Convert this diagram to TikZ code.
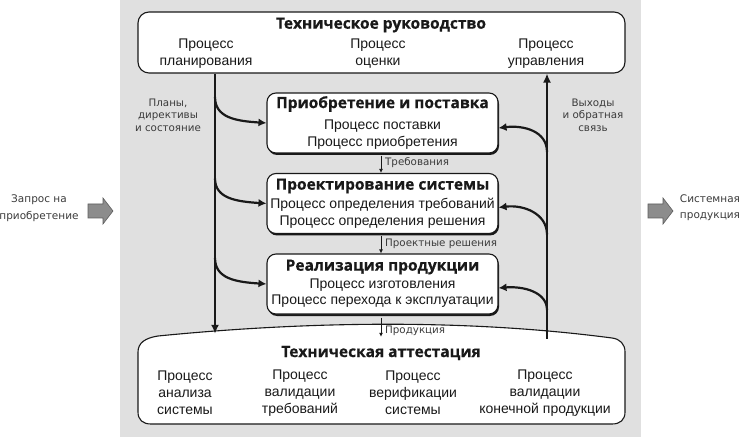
\documentclass[tikz,border=0pt]{standalone}
\usepackage{fontspec}
\setmainfont{Liberation Sans}
\newfontfamily\titlefont{Open Sans}[BoldFeatures={FakeBold=0.5}]
\newfontfamily\smallfont{DejaVu Sans}
\usetikzlibrary{arrows.meta,shadows,calc}
\definecolor{bggray}{RGB}{224,224,224}
\definecolor{agray}{RGB}{140,140,140}
\definecolor{ink}{RGB}{25,25,25}
\tikzset{
  mbox/.style={draw=ink, line width=1.1pt, fill=white, rounded corners=9pt, minimum width=231pt, minimum height=60pt, inner sep=0pt,
    general shadow={fill=ink, shadow xshift=1pt, shadow yshift=-2pt}},
  tbox/.style={draw=ink, line width=1.1pt, fill=white, rounded corners=11pt, minimum width=487pt, minimum height=61pt, inner sep=0pt},
  ttl/.style={font=\titlefont\bfseries\fontsize{15.5}{18}\selectfont, text=ink, inner sep=0pt},
  txt/.style={font=\fontsize{14}{17}\selectfont, text=ink, align=center, inner sep=0pt},
  sml/.style={font=\smallfont\fontsize{10.3}{12.5}\selectfont, text=ink!85, align=center, inner sep=0pt},
  mainarrow/.style={draw=ink, line width=2.6pt, -{Latex[length=9pt,width=8pt]}},
  curvearrow/.style={draw=ink, line width=2.2pt, -{Latex[length=8pt,width=8pt]}},
  thinarrow/.style={draw=ink, line width=0.9pt, -{Latex[length=4pt,width=4pt]}},
  garrow/.style={draw=ink!70, fill=agray, line width=0.6pt}
}
\begin{document}
\begin{tikzpicture}[x=1pt,y=-1pt]
\useasboundingbox (0,0) rectangle (746,443);
\fill[white] (0,0) rectangle (746,443);
\fill[bggray] (120,0) rectangle (641,437);

% coordinates for vertical lines
\coordinate (L) at (215,0);
\coordinate (R) at (547,0);
\coordinate (M) at (381,0);

% top box
\node[tbox] (tb) at (381.5,42.5) {};
\node[ttl] (tbt) at (381,25) {Техническое руководство};
\node[txt] (tb1) at (206,53.5) {Процесс\\планирования};
\node[txt] (tb2) at (378,53.5) {Процесс\\оценки};
\node[txt] (tb3) at (546,53.5) {Процесс\\управления};

% middle boxes
\node[mbox] (b1) at (382.5,123) {};
\node[ttl] (b1t) at (382.5,104) {Приобретение и поставка};
\node[txt] (b1a) at (382.5,126) {Процесс поставки};
\node[txt] (b1b) at (382.5,143) {Процесс приобретения};

\node[mbox] (b2) at (382.5,203.5) {};
\node[ttl] (b2t) at (382.5,186) {Проектирование системы};
\node[txt] (b2a) at (382.5,205) {Процесс определения требований};
\node[txt] (b2b) at (382.5,222) {Процесс определения решения};

\node[mbox] (b3) at (382.5,284) {};
\node[ttl] (b3t) at (382.5,267) {Реализация продукции};
\node[txt] (b3a) at (382.5,285) {Процесс изготовления};
\node[txt] (b3b) at (382.5,301) {Процесс перехода к эксплуатации};

% bottom box
\node[minimum width=487pt, minimum height=87pt, inner sep=0pt] (bb) at (381.5,380.5) {};
\draw[draw=ink, line width=1.1pt, fill=white]
  (138,412) -- (138,352) .. controls (138,343) and (145,338) .. (158,336)
  .. controls (300,322) and (460,318) .. (612,338)
  .. controls (620,339) and (625,344) .. (625,352) -- (625,412)
  .. controls (625,420) and (620,424) .. (612,424) -- (151,424)
  .. controls (143,424) and (138,420) .. (138,412) -- cycle;
\node[ttl] (bbt) at (381,353) {Техническая аттестация};
\node[txt] (bb1) at (185,393) {Процесс\\анализа\\системы};
\node[txt] (bb2) at (300,393) {Процесс\\валидации\\требований};
\node[txt] (bb3) at (413,393) {Процесс\\верификации\\системы};
\node[txt] (bb4) at (545,393) {Процесс\\валидации\\конечной продукции};

% main vertical lines
\draw[mainarrow] (tb.south -| L) -- ($(bb.north -| L)+(0,-3)$);
\draw[mainarrow] ($(bb.north -| R)+(0,2)$) -- (tb.south -| R);

% left curved arrows
\draw[curvearrow] ($(b1.west -| L)+(0,-26)$) .. controls ($(b1.west -| L)+(0,-5)$) and ($(b1.west)+(-30,-2)$) .. (b1.west);
\draw[curvearrow] ($(b2.west -| L)+(0,-25)$) .. controls ($(b2.west -| L)+(0,-5)$) and ($(b2.west)+(-30,-2)$) .. (b2.west);
\draw[curvearrow] ($(b3.west -| L)+(0,-26)$) .. controls ($(b3.west -| L)+(0,-5)$) and ($(b3.west)+(-30,-2)$) .. (b3.west);

% right curved arrows
\draw[curvearrow] ($(b1.east -| R)+(0,29)$) .. controls ($(b1.east -| R)+(0,8)$) and ($(b1.east)+(25,2)$) .. ($(b1.east)+(0,5)$);
\draw[curvearrow] ($(b2.east -| R)+(0,31)$) .. controls ($(b2.east -| R)+(0,10)$) and ($(b2.east)+(25,1)$) .. ($(b2.east)+(0,4)$);
\draw[curvearrow] ($(b3.east -| R)+(0,26)$) .. controls ($(b3.east -| R)+(0,8)$) and ($(b3.east)+(25,2)$) .. ($(b3.east)+(0,4)$);

% side labels
\node[sml] (lab1) at (168,115) {Планы,\\директивы\\и состояние};
\node[sml] (lab2) at (593,115) {Выходы\\и обратная\\связь};

% thin arrows between boxes
\draw[thinarrow] ($(b1.south -| M)+(0,2)$) -- (b2.north -| M);
\node[sml, anchor=west] (req) at (385,163) {Требования};
\draw[thinarrow] ($(b2.south -| M)+(0,2)$) -- (b3.north -| M);
\node[sml, anchor=west] (des) at (385,244) {Проектные решения};
\draw[thinarrow] ($(b3.south -| M)+(0,3)$) -- ($(bb.north -| M)+(0,0)$);
\node[sml, anchor=west] (prod) at (385,331) {Продукция};

% outside labels and grey block arrows
\draw[garrow] (88,204) -- (103,204) -- (103,198) -- (113,211) -- (103,224) -- (103,218) -- (88,218) -- cycle;
\node[sml, font=\smallfont\fontsize{10.5}{17}\selectfont] (in) at (39,208.5) {Запрос на\\приобретение};
\draw[garrow] (648,204) -- (663,204) -- (663,198) -- (673,211) -- (663,224) -- (663,218) -- (648,218) -- cycle;
\node[sml, font=\smallfont\fontsize{10.5}{16}\selectfont] (out) at (710,208) {Системная\\продукция};
\end{tikzpicture}
\end{document}
